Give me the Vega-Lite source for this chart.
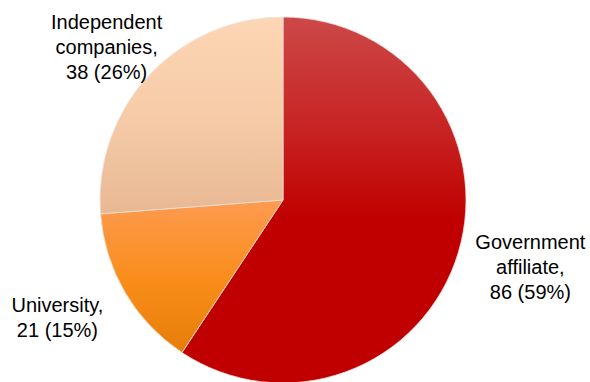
{
  "$schema": "https://vega.github.io/schema/vega-lite/v6.json",
  "width": 566,
  "height": 364,
  "autosize": {"type": "none"},
  "padding": {"left": 0, "right": 24, "top": 18, "bottom": 0},
  "background": "white",
  "view": {"stroke": null},
  "data": {
    "values": [
      {"category": "Government affiliate", "value": 86, "order": 1, "label": ["Government", "affiliate,", "86 (59%)"]},
      {"category": "University", "value": 21, "order": 2, "label": ["University,", "21 (15%)"]},
      {"category": "Independent companies", "value": 38, "order": 3, "label": ["Independent", "companies,", "38 (26%)"]}
    ]
  },
  "encoding": {
    "theta": {"field": "value", "type": "quantitative", "stack": true},
    "order": {"field": "order", "type": "quantitative"}
  },
  "layer": [
    {
      "mark": {"type": "arc", "outerRadius": 183, "stroke": "#f4e0d8", "strokeWidth": 0.8},
      "encoding": {
        "fill": {
          "condition": [
            {"test": "datum.category === 'Government affiliate'", "value": {"gradient": "linear", "x1": 0, "y1": 0, "x2": 0, "y2": 1, "stops": [{"offset": 0, "color": "#cd4848"}, {"offset": 0.3, "color": "#c82424"}, {"offset": 0.55, "color": "#c00000"}, {"offset": 1, "color": "#c00000"}]}},
            {"test": "datum.category === 'University'", "value": {"gradient": "linear", "x1": 0, "y1": 0, "x2": 0, "y2": 1, "stops": [{"offset": 0, "color": "#fd9b50"}, {"offset": 0.55, "color": "#f98c18"}, {"offset": 1, "color": "#e67e0a"}]}}
          ],
          "value": {"gradient": "linear", "x1": 0, "y1": 0, "x2": 0, "y2": 1, "stops": [{"offset": 0, "color": "#fdd6b5"}, {"offset": 0.5, "color": "#f6cba8"}, {"offset": 1, "color": "#e8b893"}]}
        }
      }
    },
    {
      "mark": {"type": "text", "radius": 250, "dx": 8, "dy": -29, "font": "Liberation Sans", "fontSize": 20, "lineHeight": 25, "align": "center", "baseline": "middle", "color": "#000000"},
      "encoding": {
        "text": {"condition": {"test": "datum.category === 'Government affiliate'", "field": "label"}, "value": ""}
      }
    },
    {
      "mark": {"type": "text", "radius": 250, "dx": -10, "dy": -21, "font": "Liberation Sans", "fontSize": 20, "lineHeight": 25, "align": "center", "baseline": "middle", "color": "#000000"},
      "encoding": {
        "text": {"condition": {"test": "datum.category === 'University'", "field": "label"}, "value": ""}
      }
    },
    {
      "mark": {"type": "text", "radius": 250, "dx": 7, "dy": -7, "font": "Liberation Sans", "fontSize": 20, "lineHeight": 25, "align": "center", "baseline": "middle", "color": "#000000"},
      "encoding": {
        "text": {"condition": {"test": "datum.category === 'Independent companies'", "field": "label"}, "value": ""}
      }
    }
  ]
}
